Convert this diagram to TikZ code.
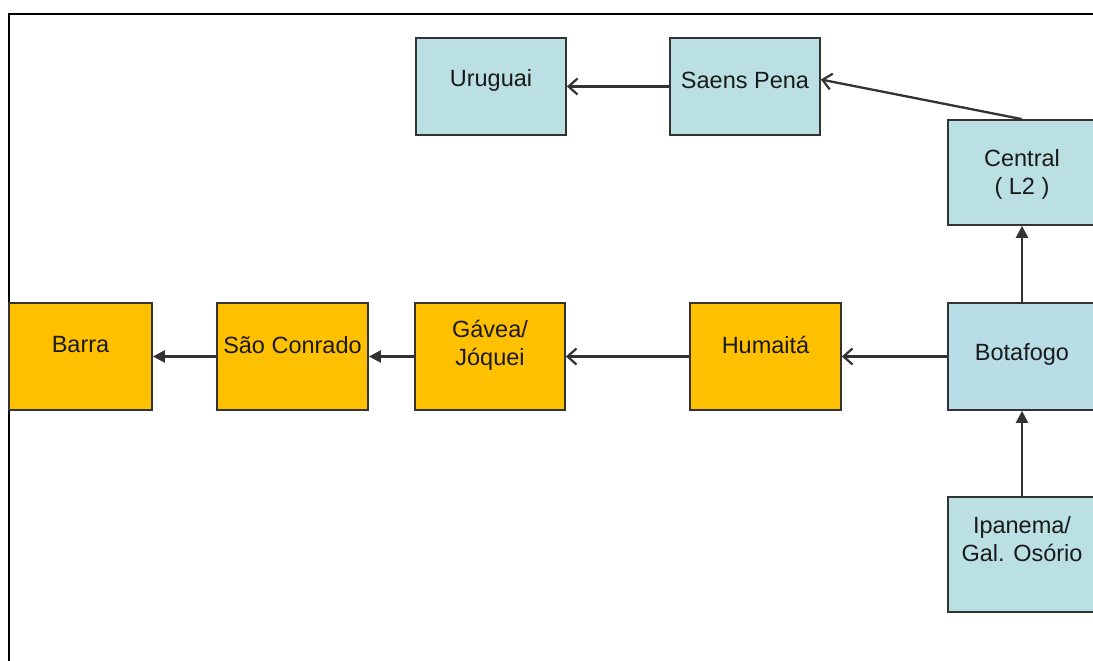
\documentclass[tikz,border=0pt]{standalone}
\usepackage{fontspec}
\setmainfont{Liberation Sans}
\usetikzlibrary{arrows.meta}
\definecolor{boxblue}{HTML}{BAE0E3}
\definecolor{boxbluetwo}{HTML}{B8DDE6}
\definecolor{boxorange}{HTML}{FFC000}
\definecolor{edgegray}{HTML}{333333}
\definecolor{txtcol}{HTML}{1A1A1A}
\tikzset{
  box/.style={draw=edgegray, line width=1.7pt, inner sep=0pt, text=txtcol},
  bluebox/.style={box, fill=boxblue},
  blueboxtwo/.style={box, fill=boxbluetwo},
  orangebox/.style={box, fill=boxorange},
  txt/.style={font=\fontsize{23.5}{28}\selectfont, text=txtcol, align=center, inner sep=0pt},
  openarrow/.style={draw=edgegray, line width=2.3pt, -{Straight Barb[length=9pt,width=16pt,line width=2.2pt]}},
  filledarrow/.style={draw=edgegray, line width=2.3pt, -{Triangle[length=12pt,width=12pt]}}
}
\begin{document}
\begin{tikzpicture}[x=1pt,y=-1pt]
\useasboundingbox (0,0) rectangle (1093,661);
\fill[white] (0,0) rectangle (1093,661);
% frame
\draw[line width=2.6pt, line cap=rect] (9,670) -- (9,14) -- (1100,14);
% boxes
\node[bluebox, minimum width=150pt, minimum height=97pt,
      label={[txt, yshift=6.5pt]center:Uruguai}] (uru) at (491,86.5) {};
\node[bluebox, minimum width=150pt, minimum height=97pt,
      label={[txt, yshift=6.5pt]center:Saens Pena}] (saens) at (745,86.5) {};
\node[bluebox, minimum width=148pt, minimum height=105pt,
      label={[txt, yshift=-2pt]center:{Central\\( L2 )}}] (central) at (1022,172.5) {};
\node[blueboxtwo, minimum width=148pt, minimum height=107pt,
      label={[txt, yshift=2.5pt]center:Botafogo}] (bota) at (1022,356.5) {};
\node[bluebox, minimum width=148pt, minimum height=115pt,
      label={[txt, yshift=15pt]center:{Ipanema/\\Gal. Osório}}] (ipa) at (1022,554.5) {};
\node[orangebox, minimum width=151pt, minimum height=107pt,
      label={[txt, yshift=11.5pt]center:Humaitá}] (huma) at (765.5,356.5) {};
\node[orangebox, minimum width=150pt, minimum height=107pt,
      label={[txt, yshift=11.5pt]center:{Gávea/\\Jóquei}}] (gavea) at (490,356.5) {};
\node[orangebox, minimum width=151pt, minimum height=107pt,
      label={[txt, yshift=11.5pt]center:São Conrado}] (sao) at (292.5,356.5) {};
\node[orangebox, minimum width=143pt, minimum height=107pt,
      label={[txt, yshift=11.5pt]center:Barra}] (barra) at (80.5,356.5) {};
% connectors
\draw[openarrow] (saens.west) -- (uru.east);
\draw[openarrow] (central.north) -- ([yshift=7pt]saens.east);
\draw[filledarrow] (bota.north) -- (central.south);
\draw[filledarrow] (ipa.north) -- (bota.south);
\draw[openarrow] (bota.west) -- (huma.east);
\draw[openarrow] (huma.west) -- (gavea.east);
\draw[filledarrow] (gavea.west) -- (sao.east);
\draw[filledarrow] (sao.west) -- (barra.east);
\end{tikzpicture}
\end{document}
